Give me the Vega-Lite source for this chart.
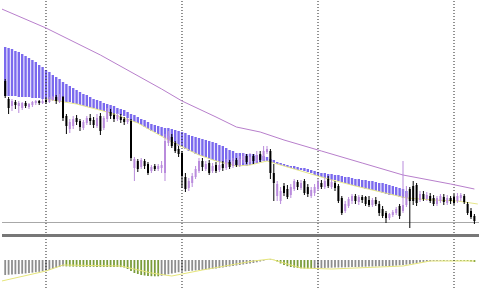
{
"$schema": "https://vega.github.io/schema/vega-lite/v6.json",
"padding": 0,
"spacing": 0,
"background": "white",
"config": {"view": {"stroke": null}, "scale": {"continuousPadding": 0}},
"datasets": {
"bars": [
{"i":0,"o":220,"h":222,"l":203,"c":205,"top":254,"bot":205,"osc":-15},
{"i":1,"o":202,"h":204,"l":187,"c":193,"top":253,"bot":205,"osc":-14.8},
{"i":2,"o":195,"h":202,"l":190,"c":200,"top":252,"bot":205,"osc":-14.5},
{"i":3,"o":199,"h":201,"l":192,"c":196,"top":250,"bot":205,"osc":-14.2},
{"i":4,"o":195,"h":200,"l":188,"c":198,"top":249,"bot":204,"osc":-14},
{"i":5,"o":193,"h":199,"l":191,"c":198,"top":247,"bot":204,"osc":-13.7},
{"i":6,"o":198,"h":200,"l":193,"c":195,"top":245,"bot":204,"osc":-13.4},
{"i":7,"o":194,"h":198,"l":192,"c":197,"top":243,"bot":204,"osc":-13},
{"i":8,"o":196,"h":200,"l":194,"c":199,"top":241,"bot":203,"osc":-12.6},
{"i":9,"o":198,"h":201,"l":196,"c":200,"top":239,"bot":203,"osc":-12.2},
{"i":10,"o":200,"h":201,"l":196,"c":198,"top":236,"bot":203,"osc":-11.8},
{"i":11,"o":198,"h":202,"l":197,"c":200,"top":234,"bot":202,"osc":-11.3},
{"i":12,"o":201,"h":203,"l":197,"c":199,"top":231,"bot":202,"osc":-10.7},
{"i":13,"o":199,"h":204,"l":198,"c":202,"top":229,"bot":202,"osc":-10},
{"i":14,"o":201,"h":205,"l":200,"c":204,"top":226,"bot":201,"osc":-9},
{"i":15,"o":204,"h":206,"l":197,"c":200,"top":224,"bot":201,"osc":-8},
{"i":16,"o":199,"h":207,"l":198,"c":204,"top":222,"bot":200,"osc":-7},
{"i":17,"o":204,"h":205,"l":180,"c":183,"top":219,"bot":200,"osc":-6.2},
{"i":18,"o":185,"h":187,"l":167,"c":175,"top":217,"bot":199,"osc":-6.4},
{"i":19,"o":172,"h":182,"l":168,"c":179,"top":215,"bot":199,"osc":-6.5},
{"i":20,"o":175,"h":185,"l":172,"c":182,"top":213,"bot":198,"osc":-6.6},
{"i":21,"o":183,"h":186,"l":176,"c":179,"top":211,"bot":197,"osc":-6.7},
{"i":22,"o":180,"h":182,"l":170,"c":174,"top":209,"bot":196,"osc":-6.7},
{"i":23,"o":173,"h":181,"l":171,"c":179,"top":207,"bot":195,"osc":-6.8},
{"i":24,"o":178,"h":185,"l":176,"c":183,"top":206,"bot":194,"osc":-6.8},
{"i":25,"o":183,"h":187,"l":176,"c":180,"top":204,"bot":193,"osc":-6.8},
{"i":26,"o":181,"h":184,"l":173,"c":176,"top":202,"bot":193,"osc":-6.8},
{"i":27,"o":175,"h":187,"l":173,"c":183,"top":201,"bot":192,"osc":-6.9},
{"i":28,"o":185,"h":188,"l":166,"c":170,"top":200,"bot":191,"osc":-6.9},
{"i":29,"o":173,"h":185,"l":171,"c":183,"top":198,"bot":190,"osc":-6.9},
{"i":30,"o":182,"h":193,"l":179,"c":190,"top":197,"bot":189,"osc":-7},
{"i":31,"o":189,"h":192,"l":182,"c":185,"top":196,"bot":188,"osc":-7},
{"i":32,"o":186,"h":188,"l":179,"c":182,"top":195,"bot":188,"osc":-7},
{"i":33,"o":182,"h":188,"l":180,"c":186,"top":193,"bot":187,"osc":-7},
{"i":34,"o":184,"h":187,"l":178,"c":181,"top":192,"bot":186,"osc":-7.1},
{"i":35,"o":182,"h":184,"l":176,"c":179,"top":191,"bot":185,"osc":-7.5},
{"i":36,"o":179,"h":183,"l":177,"c":182,"top":189,"bot":183,"osc":-9},
{"i":37,"o":180,"h":182,"l":140,"c":143,"top":187,"bot":181,"osc":-11},
{"i":38,"o":133,"h":144,"l":120,"c":142,"top":186,"bot":179,"osc":-13},
{"i":39,"o":140,"h":142,"l":129,"c":132,"top":184,"bot":178,"osc":-14},
{"i":40,"o":134,"h":143,"l":132,"c":141,"top":182,"bot":176,"osc":-15},
{"i":41,"o":140,"h":142,"l":132,"c":135,"top":181,"bot":174,"osc":-15.5},
{"i":42,"o":137,"h":139,"l":126,"c":128,"top":179,"bot":172,"osc":-16},
{"i":43,"o":130,"h":136,"l":128,"c":134,"top":177,"bot":170,"osc":-16.2},
{"i":44,"o":135,"h":137,"l":130,"c":132,"top":176,"bot":169,"osc":-16.3},
{"i":45,"o":132,"h":137,"l":130,"c":135,"top":175,"bot":167,"osc":-16.3},
{"i":46,"o":133,"h":140,"l":128,"c":136,"top":174,"bot":165,"osc":-15.8},
{"i":47,"o":128,"h":167,"l":120,"c":160,"top":173,"bot":163,"osc":-15},
{"i":48,"o":158,"h":170,"l":155,"c":165,"top":173,"bot":161,"osc":-14.2},
{"i":49,"o":164,"h":167,"l":153,"c":155,"top":172,"bot":159,"osc":-13.5},
{"i":50,"o":158,"h":160,"l":148,"c":150,"top":171,"bot":157,"osc":-12.8},
{"i":51,"o":152,"h":155,"l":144,"c":147,"top":170,"bot":155,"osc":-12.2},
{"i":52,"o":148,"h":150,"l":113,"c":125,"top":169,"bot":154,"osc":-11.7},
{"i":53,"o":124,"h":128,"l":109,"c":112,"top":168,"bot":152,"osc":-11.3},
{"i":54,"o":113,"h":123,"l":110,"c":120,"top":166,"bot":150,"osc":-11},
{"i":55,"o":118,"h":128,"l":114,"c":125,"top":165,"bot":149,"osc":-10.7},
{"i":56,"o":124,"h":135,"l":122,"c":132,"top":164,"bot":147,"osc":-10.4},
{"i":57,"o":130,"h":143,"l":128,"c":140,"top":163,"bot":146,"osc":-10.1},
{"i":58,"o":140,"h":143,"l":130,"c":134,"top":162,"bot":145,"osc":-9.8},
{"i":59,"o":132,"h":140,"l":130,"c":137,"top":161,"bot":144,"osc":-9.5},
{"i":60,"o":138,"h":141,"l":126,"c":128,"top":160,"bot":142,"osc":-9.2},
{"i":61,"o":130,"h":138,"l":128,"c":135,"top":159,"bot":141,"osc":-8.8},
{"i":62,"o":136,"h":139,"l":128,"c":130,"top":158,"bot":140,"osc":-8.4},
{"i":63,"o":131,"h":140,"l":129,"c":136,"top":156,"bot":139,"osc":-8},
{"i":64,"o":137,"h":140,"l":130,"c":133,"top":155,"bot":138,"osc":-7.5},
{"i":65,"o":133,"h":142,"l":131,"c":139,"top":153,"bot":138,"osc":-7},
{"i":66,"o":139,"h":141,"l":132,"c":134,"top":151,"bot":137,"osc":-6.5},
{"i":67,"o":135,"h":143,"l":133,"c":140,"top":150,"bot":136,"osc":-6},
{"i":68,"o":141,"h":143,"l":134,"c":136,"top":148,"bot":135,"osc":-5.5},
{"i":69,"o":136,"h":145,"l":134,"c":142,"top":148,"bot":135,"osc":-5},
{"i":70,"o":141,"h":148,"l":138,"c":145,"top":148,"bot":135,"osc":-4.5},
{"i":71,"o":145,"h":147,"l":137,"c":139,"top":147,"bot":135,"osc":-4},
{"i":72,"o":139,"h":148,"l":137,"c":144,"top":147,"bot":136,"osc":-3.5},
{"i":73,"o":145,"h":147,"l":137,"c":140,"top":147,"bot":137,"osc":-3},
{"i":74,"o":140,"h":150,"l":138,"c":146,"top":146,"bot":138,"osc":-2.3},
{"i":75,"o":147,"h":150,"l":139,"c":141,"top":146,"bot":139,"osc":-1.5},
{"i":76,"o":142,"h":155,"l":140,"c":150,"top":145,"bot":140,"osc":-0.7},
{"i":77,"o":149,"h":155,"l":147,"c":152,"top":144,"bot":140,"osc":0.3},
{"i":78,"o":150,"h":152,"l":122,"c":128,"top":142,"bot":139,"osc":0.5},
{"i":79,"o":128,"h":137,"l":100,"c":118,"top":141,"bot":138,"osc":0.2},
{"i":80,"o":105,"h":120,"l":100,"c":117,"top":139,"bot":137,"osc":-1.5},
{"i":81,"o":100,"h":114,"l":97,"c":110,"top":138,"bot":136,"osc":-3.5},
{"i":82,"o":115,"h":118,"l":105,"c":108,"top":137,"bot":135,"osc":-5},
{"i":83,"o":112,"h":116,"l":102,"c":104,"top":136,"bot":134,"osc":-6.2},
{"i":84,"o":106,"h":117,"l":103,"c":114,"top":135,"bot":133,"osc":-7},
{"i":85,"o":112,"h":122,"l":110,"c":120,"top":135,"bot":132,"osc":-7.6},
{"i":86,"o":119,"h":121,"l":111,"c":114,"top":134,"bot":131,"osc":-8},
{"i":87,"o":113,"h":121,"l":111,"c":118,"top":133,"bot":131,"osc":-8.3},
{"i":88,"o":120,"h":122,"l":106,"c":108,"top":133,"bot":130,"osc":-8.5},
{"i":89,"o":114,"h":117,"l":104,"c":107,"top":132,"bot":129,"osc":-8.6},
{"i":90,"o":105,"h":114,"l":103,"c":111,"top":131,"bot":128,"osc":-8.6},
{"i":91,"o":108,"h":117,"l":105,"c":114,"top":130,"bot":126,"osc":-8.5},
{"i":92,"o":112,"h":122,"l":110,"c":119,"top":129,"bot":125,"osc":-8.2},
{"i":93,"o":118,"h":121,"l":112,"c":114,"top":128,"bot":124,"osc":-8},
{"i":94,"o":114,"h":123,"l":112,"c":120,"top":128,"bot":123,"osc":-7.9},
{"i":95,"o":122,"h":125,"l":113,"c":115,"top":127,"bot":122,"osc":-7.8},
{"i":96,"o":114,"h":122,"l":112,"c":119,"top":127,"bot":121,"osc":-7.7},
{"i":97,"o":118,"h":120,"l":110,"c":113,"top":126,"bot":121,"osc":-7.6},
{"i":98,"o":115,"h":117,"l":98,"c":100,"top":126,"bot":120,"osc":-7.5},
{"i":99,"o":103,"h":105,"l":86,"c":88,"top":125,"bot":119,"osc":-7.4},
{"i":100,"o":90,"h":100,"l":88,"c":97,"top":124,"bot":118,"osc":-7.3},
{"i":101,"o":95,"h":104,"l":93,"c":102,"top":124,"bot":117,"osc":-7.2},
{"i":102,"o":100,"h":107,"l":97,"c":105,"top":123,"bot":116,"osc":-7.1},
{"i":103,"o":105,"h":107,"l":97,"c":100,"top":122,"bot":115,"osc":-7},
{"i":104,"o":99,"h":106,"l":96,"c":104,"top":122,"bot":114,"osc":-6.9},
{"i":105,"o":104,"h":106,"l":98,"c":101,"top":121,"bot":113,"osc":-6.8},
{"i":106,"o":104,"h":105,"l":95,"c":97,"top":121,"bot":112,"osc":-6.7},
{"i":107,"o":101,"h":105,"l":94,"c":96,"top":120,"bot":112,"osc":-6.6},
{"i":108,"o":96,"h":103,"l":94,"c":101,"top":120,"bot":111,"osc":-6.5},
{"i":109,"o":101,"h":104,"l":95,"c":97,"top":119,"bot":110,"osc":-6.4},
{"i":110,"o":97,"h":100,"l":85,"c":88,"top":118,"bot":109,"osc":-6.3},
{"i":111,"o":92,"h":95,"l":83,"c":85,"top":118,"bot":108,"osc":-6.2},
{"i":112,"o":88,"h":90,"l":78,"c":83,"top":117,"bot":107,"osc":-6.1},
{"i":113,"o":83,"h":88,"l":81,"c":87,"top":116,"bot":106,"osc":-6},
{"i":114,"o":86,"h":91,"l":84,"c":89,"top":115,"bot":106,"osc":-5.8},
{"i":115,"o":88,"h":94,"l":86,"c":92,"top":114,"bot":105,"osc":-5.6},
{"i":116,"o":95,"h":97,"l":82,"c":85,"top":113,"bot":104,"osc":-5.3},
{"i":117,"o":90,"h":140,"l":88,"c":96,"top":112,"bot":103,"osc":-5},
{"i":118,"o":96,"h":115,"l":94,"c":108,"top":110,"bot":103,"osc":-4.6},
{"i":119,"o":112,"h":114,"l":73,"c":100,"osc":-4.2},
{"i":120,"o":115,"h":120,"l":96,"c":100,"osc":-3.7},
{"i":121,"o":116,"h":118,"l":95,"c":98,"osc":-3.2},
{"i":122,"o":101,"h":110,"l":99,"c":107,"osc":-2.6},
{"i":123,"o":107,"h":110,"l":100,"c":102,"osc":-2},
{"i":124,"o":102,"h":109,"l":100,"c":106,"osc":-1.6},
{"i":125,"o":105,"h":108,"l":98,"c":100,"osc":-1.3},
{"i":126,"o":103,"h":106,"l":95,"c":97,"osc":-1.1},
{"i":127,"o":97,"h":105,"l":95,"c":103,"osc":-1},
{"i":128,"o":100,"h":107,"l":98,"c":105,"osc":-0.9},
{"i":129,"o":104,"h":107,"l":96,"c":99,"osc":-0.9},
{"i":130,"o":98,"h":106,"l":96,"c":103,"osc":-0.8},
{"i":131,"o":103,"h":105,"l":97,"c":100,"osc":-0.8},
{"i":132,"o":104,"h":107,"l":96,"c":98,"osc":-0.8},
{"i":133,"o":100,"h":108,"l":98,"c":105,"osc":-0.8},
{"i":134,"o":103,"h":108,"l":100,"c":106,"osc":-0.9},
{"i":135,"o":105,"h":107,"l":97,"c":99,"osc":-0.9},
{"i":136,"o":97,"h":99,"l":86,"c":88,"osc":-1},
{"i":137,"o":90,"h":93,"l":82,"c":84,"osc":-1.5},
{"i":138,"o":85,"h":87,"l":77,"c":80,"osc":-2}
],
"ma": [
{"i":-1,"v":292},{"i":12,"v":273},{"i":28,"v":246},{"i":46,"v":212},{"i":52,"v":200},{"i":62,"v":184},{"i":68,"v":174},{"i":75,"v":169},{"i":82,"v":161},{"i":93,"v":150},{"i":105,"v":138},{"i":117,"v":126},{"i":131,"v":117},{"i":138,"v":112}
],
"span": [
{"i":12,"v":202},{"i":21,"v":197},{"i":30,"v":189},{"i":39,"v":178},{"i":48,"v":161},{"i":57,"v":146},{"i":62,"v":140},{"i":68,"v":135},{"i":72,"v":136},{"i":77,"v":140},{"i":85,"v":132},{"i":94,"v":123},{"i":103,"v":115},{"i":118,"v":103},{"i":126,"v":101},{"i":133,"v":100},{"i":139,"v":97}
],
"sig": [
{"i":-1,"v":-21},{"i":12,"v":-11},{"i":17,"v":-5},{"i":34,"v":-6},{"i":43,"v":-13},{"i":49,"v":-16},{"i":58,"v":-10},{"i":73,"v":-1},{"i":78,"v":1},{"i":87,"v":-8},{"i":96,"v":-9},{"i":117,"v":-6},{"i":125,"v":-1},{"i":138,"v":-1}
],
"vl": [{"i":12},{"i":52},{"i":92},{"i":132}]
},
"vconcat": [
{
"width": 479,
"height": 236,
"layer": [
{
"data": {"name": "bars"},
"transform": [{"filter": "isValid(datum.top)"}],
"mark": {"type": "bar", "size": 2.4, "color": "#7b6aee", "clip": true},
"encoding": {
"x": {"field": "i", "type": "quantitative", "scale": {"domain": [-0.94, 139.94], "nice": false, "zero": false, "padding": 0}, "axis": null},
"y": {"field": "top", "type": "quantitative", "scale": {"domain": [64, 300], "nice": false, "zero": false, "padding": 0}, "axis": null},
"y2": {"field": "bot"}
}
},
{
"data": {"name": "vl"},
"mark": {"type": "rule", "color": "#222222", "strokeDash": [1, 2], "strokeWidth": 1},
"encoding": {
"x": {"field": "i", "type": "quantitative", "scale": {"domain": [-0.94, 139.94], "nice": false, "zero": false, "padding": 0}, "axis": null}
}
},
{
"data": {"values": [{}]},
"mark": {"type": "rule", "color": "#a8a8a8", "strokeWidth": 1},
"encoding": {"y": {"datum": 78.5, "type": "quantitative"}}
},
{
"data": {"values": [{}]},
"mark": {"type": "rule", "color": "#777777", "strokeWidth": 3},
"encoding": {"y": {"datum": 65.5, "type": "quantitative"}}
},
{
"data": {"name": "span"},
"mark": {"type": "line", "color": "#e6e68a", "strokeWidth": 1, "clip": true},
"encoding": {
"x": {"field": "i", "type": "quantitative", "scale": {"domain": [-0.94, 139.94], "nice": false, "zero": false, "padding": 0}, "axis": null},
"y": {"field": "v", "type": "quantitative"}
}
},
{
"data": {"name": "ma"},
"mark": {"type": "line", "color": "#b87fcc", "strokeWidth": 1, "clip": true},
"encoding": {
"x": {"field": "i", "type": "quantitative", "scale": {"domain": [-0.94, 139.94], "nice": false, "zero": false, "padding": 0}, "axis": null},
"y": {"field": "v", "type": "quantitative"}
}
},
{
"data": {"name": "bars"},
"mark": {"type": "rule", "strokeWidth": 1, "clip": true},
"encoding": {
"x": {"field": "i", "type": "quantitative", "scale": {"domain": [-0.94, 139.94], "nice": false, "zero": false, "padding": 0}, "axis": null},
"y": {"field": "h", "type": "quantitative"},
"y2": {"field": "l"},
"color": {"condition": {"test": "datum.c > datum.o", "value": "#b98bdc"}, "value": "#000000"}
}
},
{
"data": {"name": "bars"},
"mark": {"type": "bar", "size": 2, "clip": true},
"encoding": {
"x": {"field": "i", "type": "quantitative", "scale": {"domain": [-0.94, 139.94], "nice": false, "zero": false, "padding": 0}, "axis": null},
"y": {"field": "o", "type": "quantitative"},
"y2": {"field": "c"},
"color": {"condition": {"test": "datum.c > datum.o", "value": "#b98bdc"}, "value": "#000000"}
}
}
]
},
{
"width": 479,
"height": 52,
"layer": [
{
"data": {"name": "bars"},
"transform": [{"window": [{"op": "lag", "field": "osc", "as": "prev"}], "sort": [{"field": "i"}]}],
"mark": {"type": "bar", "size": 1.8, "clip": true},
"encoding": {
"x": {"field": "i", "type": "quantitative", "scale": {"domain": [-0.94, 139.94], "nice": false, "zero": false, "padding": 0}, "axis": null},
"y": {"field": "osc", "type": "quantitative", "scale": {"domain": [-31, 21], "nice": false, "padding": 0}, "axis": null},
"y2": {"datum": 0},
"color": {"condition": {"test": "datum.prev != null && datum.osc <= datum.prev", "value": "#7a9c3a"}, "value": "#8e8e8e"}
}
},
{
"data": {"name": "sig"},
"mark": {"type": "line", "color": "#e6e67a", "strokeWidth": 1, "clip": true},
"encoding": {
"x": {"field": "i", "type": "quantitative", "scale": {"domain": [-0.94, 139.94], "nice": false, "zero": false, "padding": 0}, "axis": null},
"y": {"field": "v", "type": "quantitative"}
}
},
{
"data": {"name": "vl"},
"mark": {"type": "rule", "color": "#222222", "strokeDash": [1, 2], "strokeWidth": 1},
"encoding": {
"x": {"field": "i", "type": "quantitative", "scale": {"domain": [-0.94, 139.94], "nice": false, "zero": false, "padding": 0}, "axis": null}
}
}
]
}
]
}
